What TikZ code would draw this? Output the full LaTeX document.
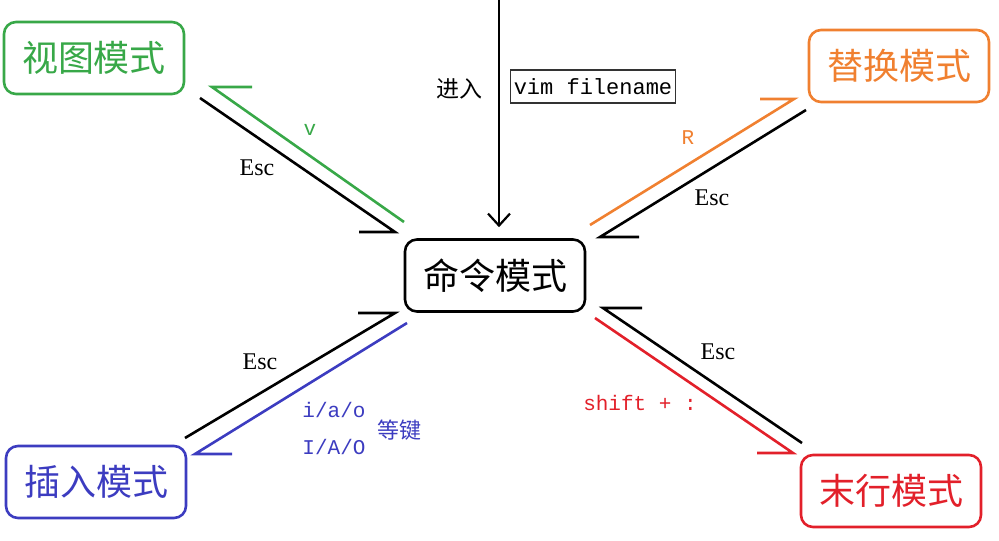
\documentclass[tikz,border=0pt]{standalone}
\usepackage{fontspec}
\setmainfont{Liberation Serif}
\newfontfamily\cjk{Noto Sans CJK SC}
\newfontfamily\monof{Liberation Mono}
\usetikzlibrary{arrows.meta}
\definecolor{cgreen}{RGB}{56,168,72}
\definecolor{corange}{RGB}{240,128,48}
\definecolor{cblue}{RGB}{60,60,192}
\definecolor{cred}{RGB}{226,32,42}
\begin{document}
\begin{tikzpicture}[x=1pt,y=-1pt,
  mode/.style={draw, line width=2.6pt, rounded corners=12pt, minimum width=180pt, minimum height=72pt, inner sep=0pt, font=\cjk\fontsize{36}{40}\selectfont},
  link/.style={line width=2.6pt, line join=miter},
  keylbl/.style={font=\monof\fontsize{21}{24}\selectfont, inner sep=1pt},
  esclbl/.style={font=\fontsize{24}{28}\selectfont, inner sep=1pt},
  cjklbl/.style={font=\cjk\fontsize{23}{26}\selectfont, inner sep=1pt}
]
\useasboundingbox (0,0) rectangle (999,541);

% mode boxes
\node[mode] (cmd) at (495,275.5) {命令模式};
\node[mode, cgreen] (view) at (94,58) {视图模式};
\node[mode, corange] (repl) at (899,66) {替换模式};
\node[mode, cblue] (ins) at (96,482) {插入模式};
\node[mode, cred] (last) at (891,491) {末行模式};

% entry arrow
\coordinate (top) at (499,0);
\draw[line width=2.2pt, -{Straight Barb[length=12pt,width=22pt,line width=2.2pt]}, shorten >=11pt] (top) -- (cmd.north -| top);
\node[cjklbl] (enter) at (459,89) {进入};
\node[draw=black!80, line width=1.4pt, inner xsep=3pt, inner ysep=0pt, minimum height=33pt, font=\monof\fontsize{22}{24}\selectfont] (vim) at (593,86.5) {vim filename};

% view mode pair
\coordinate (g0) at (404,222);
\coordinate (g1) at (212,87);
\coordinate (g2) at (252,87);
\draw[link, cgreen] (g0) -- (g1) -- (g2);
\coordinate (k0) at (200,98);
\coordinate (k1) at (395,232);
\coordinate (k2) at (359,232);
\draw[link] (k0) -- (k1) -- (k2);
\node[keylbl, cgreen] (vlbl) at (310,130) {v};
\node[esclbl] (esc1) at (257,168) {Esc};

% replace mode pair
\coordinate (o0) at (590,225);
\coordinate (o1) at (794,99);
\coordinate (o2) at (760,99);
\draw[link, corange] (o0) -- (o1) -- (o2);
\coordinate (b0) at (806,110);
\coordinate (b1) at (600,237);
\coordinate (b2) at (639,237);
\draw[link] (b0) -- (b1) -- (b2);
\node[keylbl, corange] (rlbl) at (688,138) {R};
\node[esclbl] (esc2) at (712,198) {Esc};

% insert mode pair
\coordinate (i0) at (185,438);
\coordinate (i1) at (395,313);
\coordinate (i2) at (358,313);
\draw[link] (i0) -- (i1) -- (i2);
\coordinate (u0) at (407,323);
\coordinate (u1) at (195,454);
\coordinate (u2) at (232,454);
\draw[link, cblue] (u0) -- (u1) -- (u2);
\node[esclbl] (esc3) at (260,362) {Esc};
\node[keylbl, cblue] (iao) at (334,410) {i/a/o};
\node[keylbl, cblue] (IAO) at (334,447) {I/A/O};
\node[cjklbl, cblue, font=\cjk\fontsize{22}{24}\selectfont] (deng) at (399,430) {等键};

% last line mode pair
\coordinate (r0) at (802,443);
\coordinate (r1) at (603,308);
\coordinate (r2) at (642,308);
\draw[link] (r0) -- (r1) -- (r2);
\coordinate (s0) at (595,318);
\coordinate (s1) at (793,453);
\coordinate (s2) at (757,453);
\draw[link, cred] (s0) -- (s1) -- (s2);
\node[esclbl] (esc4) at (718,352) {Esc};
\node[keylbl, cred] (shift) at (640,403) {shift + :};
\end{tikzpicture}
\end{document}
